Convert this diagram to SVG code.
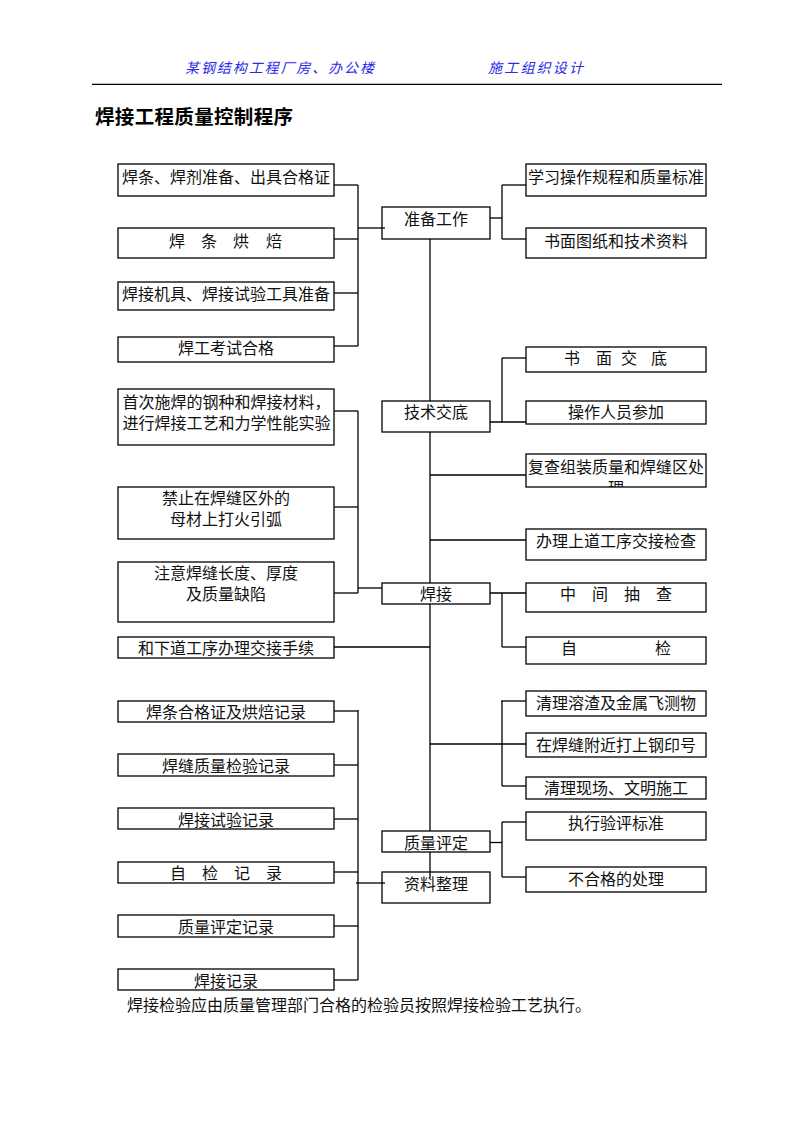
<svg xmlns="http://www.w3.org/2000/svg" width="794" height="1123" viewBox="0 0 794 1123">
<style>
.box{fill:none;stroke:#000;stroke-width:1.3}
.ln{fill:none;stroke:#000;stroke-width:1.3}
.t{font-family:"Noto Sans CJK SC","Liberation Sans",sans-serif;font-size:16px;fill:#111;text-anchor:middle}
.tl{font-family:"Noto Sans CJK SC","Liberation Sans",sans-serif;font-size:16px;fill:#111;text-anchor:start}
.hd{font-family:"Noto Sans CJK SC",sans-serif;font-size:14px;font-style:italic;fill:#2a2ae8}
</style>
<defs>
<clipPath id="clipFC"><rect x="526" y="454" width="180" height="33"/></clipPath>
</defs>
<rect width="794" height="1123" fill="#fff"/>
<g id="header">
<text class="hd" x="185" y="73" textLength="189" lengthAdjust="spacing">某钢结构工程厂房、办公楼</text>
<text class="hd" x="488" y="73" textLength="95" lengthAdjust="spacing">施工组织设计</text>
<line class="ln" x1="92" y1="84.3" x2="722" y2="84.3"/>
<text x="95" y="124" style="font-family:'Noto Sans CJK SC',sans-serif;font-size:19.5px;font-weight:700;fill:#000" textLength="198" lengthAdjust="spacing">焊接工程质量控制程序</text>
</g>
<g id="connectors">
<polyline class="ln" points="334,185 358,185"/>
<polyline class="ln" points="334,239 358,239"/>
<polyline class="ln" points="334,293 358,293"/>
<polyline class="ln" points="334,346 358,346"/>
<line class="ln" x1="358" y1="185" x2="358" y2="346"/>
<line class="ln" x1="358" y1="228" x2="385" y2="228"/>
<line class="ln" x1="490" y1="218" x2="502" y2="218"/>
<line class="ln" x1="502" y1="185" x2="502" y2="239"/>
<line class="ln" x1="502" y1="185" x2="526" y2="185"/>
<line class="ln" x1="502" y1="239" x2="526" y2="239"/>
<line class="ln" x1="430" y1="239" x2="430" y2="401"/>
<line class="ln" x1="502" y1="358" x2="502" y2="422"/>
<line class="ln" x1="502" y1="358" x2="526" y2="358"/>
<line class="ln" x1="490" y1="422" x2="526" y2="422"/>
<line class="ln" x1="430" y1="432" x2="430" y2="583"/>
<line class="ln" x1="430" y1="475" x2="526" y2="475"/>
<line class="ln" x1="430" y1="540" x2="526" y2="540"/>
<line class="ln" x1="334" y1="411" x2="358" y2="411"/>
<line class="ln" x1="334" y1="507" x2="358" y2="507"/>
<line class="ln" x1="334" y1="593" x2="358" y2="593"/>
<line class="ln" x1="358" y1="411" x2="358" y2="593"/>
<line class="ln" x1="358" y1="588" x2="382" y2="588"/>
<line class="ln" x1="490" y1="593" x2="526" y2="593"/>
<line class="ln" x1="502" y1="593" x2="502" y2="647"/>
<line class="ln" x1="502" y1="647" x2="526" y2="647"/>
<line class="ln" x1="334" y1="647" x2="430" y2="647"/>
<line class="ln" x1="430" y1="604" x2="430" y2="831"/>
<line class="ln" x1="430" y1="744" x2="526" y2="744"/>
<line class="ln" x1="502" y1="701" x2="502" y2="786"/>
<line class="ln" x1="501" y1="701" x2="526" y2="701"/>
<line class="ln" x1="502" y1="786" x2="526" y2="786"/>
<line class="ln" x1="490" y1="842.5" x2="502" y2="842.5"/>
<line class="ln" x1="502" y1="822" x2="502" y2="877"/>
<line class="ln" x1="502" y1="822" x2="526" y2="822"/>
<line class="ln" x1="502" y1="877" x2="526" y2="877"/>
<line class="ln" x1="430" y1="852" x2="430" y2="878"/>
<line class="ln" x1="358" y1="710" x2="358" y2="980"/>
<line class="ln" x1="334" y1="711" x2="358" y2="711"/>
<line class="ln" x1="334" y1="765" x2="358" y2="765"/>
<line class="ln" x1="334" y1="819" x2="358" y2="819"/>
<line class="ln" x1="334" y1="872" x2="358" y2="872"/>
<line class="ln" x1="334" y1="926" x2="358" y2="926"/>
<line class="ln" x1="334" y1="980" x2="358" y2="980"/>
<line class="ln" x1="356" y1="883" x2="385" y2="883"/>
</g>
<g id="n-hantiao"><rect class="box" x="118" y="164" width="216" height="32"/><text class="t" x="226" y="183">焊条、焊剂准备、出具合格证</text></g>
<g id="n-hongbei"><rect class="box" x="118" y="228" width="216" height="30"/><text class="tl" x="169 201 233 266" y="247">焊条烘焙</text></g>
<g id="n-jiju"><rect class="box" x="118" y="282" width="216" height="28"/><text class="t" x="226" y="300">焊接机具、焊接试验工具准备</text></g>
<g id="n-kaoshi"><rect class="box" x="118" y="337" width="216" height="25"/><text class="t" x="226" y="354">焊工考试合格</text></g>
<g id="n-zhunbei"><rect class="box" x="382" y="207" width="108" height="32"/><text class="t" x="436" y="225">准备工作</text></g>
<g id="n-xuexi"><rect class="box" x="526" y="164" width="180" height="32"/><text class="t" x="616" y="183">学习操作规程和质量标准</text></g>
<g id="n-tuzhi"><rect class="box" x="526" y="228" width="180" height="30"/><text class="t" x="616" y="247">书面图纸和技术资料</text></g>
<g id="n-shumian"><rect class="box" x="526" y="347" width="180" height="25"/><text class="tl" x="564 596 621 651" y="364">书面交底</text></g>
<g id="n-jishu"><rect class="box" x="382" y="401" width="108" height="31"/><text class="t" x="436" y="418">技术交底</text></g>
<g id="n-caozuo"><rect class="box" x="526" y="401" width="180" height="23"/><text class="t" x="616" y="418">操作人员参加</text></g>
<g id="n-shouci"><rect class="box" x="118" y="389" width="216" height="56"/><text class="tl" x="122.5" y="408">首次施焊的钢种和焊接材料，</text><text class="tl" x="122.5" y="429">进行焊接工艺和力学性能实验</text></g>
<g id="n-jinzhi"><rect class="box" x="118" y="487" width="216" height="52"/><text class="t" x="226" y="504">禁止在焊缝区外的</text><text class="t" x="226" y="525">母材上打火引弧</text></g>
<g id="n-zhuyi"><rect class="box" x="118" y="562" width="216" height="60"/><text class="t" x="226" y="579">注意焊缝长度、厚度</text><text class="t" x="226" y="600">及质量缺陷</text></g>
<g id="n-xiadao"><rect class="box" x="118" y="637" width="216" height="21"/><text class="t" x="226" y="654">和下道工序办理交接手续</text></g>
<g id="n-fucha"><rect class="box" x="526" y="454" width="180" height="33"/><g clip-path="url(#clipFC)"><text class="t" x="616" y="473">复查组装质量和焊缝区处</text><text class="t" x="616" y="494">理</text></g></g>
<g id="n-banli"><rect class="box" x="526" y="529" width="180" height="31"/><text class="t" x="616" y="547">办理上道工序交接检查</text></g>
<g id="n-hanjie"><rect class="box" x="382" y="583" width="108" height="21"/><text class="t" x="436" y="600">焊接</text></g>
<g id="n-zhongjian"><rect class="box" x="526" y="583" width="180" height="29"/><text class="t" x="616" y="600">中　间　抽　查</text></g>
<g id="n-zijian"><rect class="box" x="526" y="637" width="180" height="27"/><text class="tl" x="561 655" y="654">自检</text></g>
<g id="n-qingli"><rect class="box" x="526" y="691" width="180" height="25"/><text class="t" x="616" y="709">清理溶渣及金属飞测物</text></g>
<g id="n-gangyin"><rect class="box" x="526" y="733" width="180" height="24"/><text class="t" x="616" y="751">在焊缝附近打上钢印号</text></g>
<g id="n-xianchang"><rect class="box" x="526" y="777" width="180" height="22"/><text class="t" x="616" y="794">清理现场、文明施工</text></g>
<g id="n-zhixing"><rect class="box" x="526" y="812" width="180" height="28"/><text class="t" x="616" y="829">执行验评标准</text></g>
<g id="n-buhege"><rect class="box" x="526" y="867" width="180" height="25"/><text class="t" x="616" y="885">不合格的处理</text></g>
<g id="n-pingding"><rect class="box" x="382" y="831" width="108" height="21"/><text class="t" x="436" y="849">质量评定</text></g>
<g id="n-ziliao"><rect class="box" x="382" y="872" width="108" height="31"/><text class="t" x="436" y="890">资料整理</text></g>
<g id="n-r1"><rect class="box" x="118" y="701" width="216" height="21"/><text class="t" x="226" y="718">焊条合格证及烘焙记录</text></g>
<g id="n-r2"><rect class="box" x="118" y="754" width="216" height="22"/><text class="t" x="226" y="772">焊缝质量检验记录</text></g>
<g id="n-r3"><rect class="box" x="118" y="808" width="216" height="21"/><text class="t" x="226" y="826">焊接试验记录</text></g>
<g id="n-r4"><rect class="box" x="118" y="862" width="216" height="21"/><text class="tl" x="170 202 234 266" y="879">自检记录</text></g>
<g id="n-r5"><rect class="box" x="118" y="915" width="216" height="22"/><text class="t" x="226" y="933">质量评定记录</text></g>
<g id="n-r6"><rect class="box" x="118" y="969" width="216" height="21"/><text class="t" x="226" y="987">焊接记录</text></g>
<g id="footer"><text class="tl" x="127" y="1011">焊接检验应由质量管理部门合格的检验员按照焊接检验工艺执行。</text></g>
</svg>
